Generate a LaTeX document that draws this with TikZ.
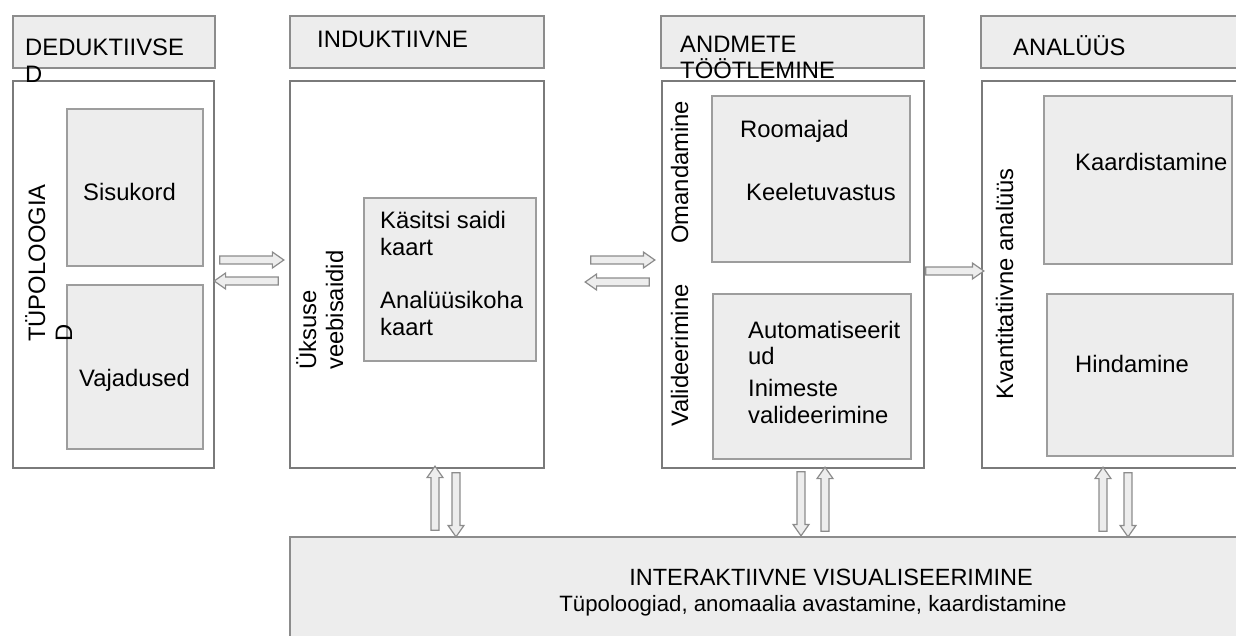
\documentclass[tikz,border=0pt]{standalone}
\usepackage{fontspec}
\setmainfont{Liberation Sans}
\usetikzlibrary{shapes.arrows}
\definecolor{boxfill}{HTML}{EDEDED}
\definecolor{boxline}{HTML}{8C8C8C}
\definecolor{mainline}{HTML}{7A7A7A}
\tikzset{
 hdr/.style={draw=boxline, line width=1.5pt, fill=boxfill, anchor=north west, inner sep=0},
 mainbox/.style={draw=mainline, line width=2pt, fill=white, anchor=north west, inner sep=0},
 innerbox/.style={draw=boxline!85, line width=1.5pt, fill=boxfill, anchor=north west, inner sep=0},
 lbl/.style={font=\fontsize{23.8}{26.5}\selectfont, inner sep=0, anchor=base west},
 vlbl/.style={lbl, rotate=90},
 botlbl/.style={font=\fontsize{23.5}{26}\selectfont, inner sep=0, anchor=base},
 barrow/.style={single arrow, draw=boxline, line width=1.2pt, fill=boxfill, inner sep=3.3pt,
   single arrow head extend=4pt, single arrow tip angle=70, minimum height=64pt, minimum width=16pt},
}
\begin{document}
\begin{tikzpicture}[x=1pt,y=-1pt]
\useasboundingbox (0,0) rectangle (1236,635);
% headers
\node[hdr, minimum width=202pt, minimum height=52pt] (h1) at (12,15) {};
\node[hdr, minimum width=254pt, minimum height=52pt] (h2) at (289,15) {};
\node[hdr, minimum width=263pt, minimum height=52pt] (h3) at (660,15) {};
\node[hdr, minimum width=260pt, minimum height=52pt] (h4) at (980,15) {};
% main boxes
\node[mainbox, minimum width=201pt, minimum height=387pt] (b1) at (12,80) {};
\node[mainbox, minimum width=254pt, minimum height=387pt] (b2) at (289,80) {};
\node[mainbox, minimum width=262pt, minimum height=387pt] (b3) at (661,80) {};
\node[mainbox, minimum width=262pt, minimum height=387pt] (b4) at (981,80) {};
% bottom box
\node[hdr, minimum width=960pt, minimum height=110pt] (bot) at (289,536) {};
% inner boxes
\node[innerbox, minimum width=136pt, minimum height=157pt] (i1a) at (66,108) {};
\node[innerbox, minimum width=136pt, minimum height=164pt] (i1b) at (66,284) {};
\node[innerbox, minimum width=172pt, minimum height=163pt] (i2) at (363,197) {};
\node[innerbox, minimum width=198pt, minimum height=166pt] (i3a) at (711,95) {};
\node[innerbox, minimum width=198pt, minimum height=165pt] (i3b) at (712,293) {};
\node[innerbox, minimum width=188pt, minimum height=168pt] (i4a) at (1043,95) {};
\node[innerbox, minimum width=186pt, minimum height=162pt] (i4b) at (1046,293) {};
% header texts
\node[lbl] (t1a) at (25,55) {DEDUKTIIVSE};
\node[lbl] (t1b) at (25,82) {D};
\node[lbl] (t2) at (317,47) {INDUKTIIVNE};
\node[lbl] (t3a) at (680,52) {ANDMETE};
\node[lbl] (t3b) at (680,78) {TÖÖTLEMINE};
\node[lbl] (t4) at (1013,55) {ANALÜÜS};
% rotated labels
\node[vlbl] (v1a) at (45,342) {TÜPOLOOGIA};
\node[vlbl] (v1b) at (72,342) {D};
\node[vlbl] (v2a) at (316,370) {Üksuse};
\node[vlbl] (v2b) at (343,370) {veebisaidid};
\node[vlbl] (v3a) at (688,244) {Omandamine};
\node[vlbl] (v3b) at (688,427) {Valideerimine};
\node[vlbl] (v4) at (1013,400) {Kvantitatiivne analüüs};
% inner texts
\node[lbl] (s1) at (83,200) {Sisukord};
\node[lbl] (s2) at (79,386) {Vajadused};
\node[lbl] (s3) at (380,228) {Käsitsi saidi};
\node[lbl] (s4) at (380,255) {kaart};
\node[lbl] (s5) at (380,308) {Analüüsikoha};
\node[lbl] (s6) at (380,335) {kaart};
\node[lbl] (s7) at (740,137) {Roomajad};
\node[lbl] (s8) at (746,200) {Keeletuvastus};
\node[lbl] (s9) at (748,338) {Automatiseerit};
\node[lbl] (s10) at (748,364) {ud};
\node[lbl] (s11) at (748,396) {Inimeste};
\node[lbl] (s12) at (748,423) {valideerimine};
\node[lbl] (s13) at (1075,170) {Kaardistamine};
\node[lbl] (s14) at (1075,372) {Hindamine};
% bottom texts
\node[botlbl] (bt1) at (831,585) {INTERAKTIIVNE VISUALISEERIMINE};
\node[botlbl, font=\fontsize{22.2}{26}\selectfont] (bt2) at (813,611) {Tüpoloogiad, anomaalia avastamine, kaardistamine};
% block arrows
\node[barrow] (a1) at (249,260) {};
\node[barrow, rotate=180] (a2) at (249,281) {};
\node[barrow] (a3) at (620,260) {};
\node[barrow, rotate=180] (a4) at (620,282) {};
\node[barrow, minimum height=58pt] (a5) at (952,271) {};
\node[barrow, rotate=90] (a6) at (435,501) {};
\node[barrow, rotate=-90] (a7) at (456,502) {};
\node[barrow, rotate=-90] (a8) at (801,501) {};
\node[barrow, rotate=90] (a9) at (825,502) {};
\node[barrow, rotate=90] (a10) at (1103,502) {};
\node[barrow, rotate=-90] (a11) at (1128,502) {};
\end{tikzpicture}
\end{document}
